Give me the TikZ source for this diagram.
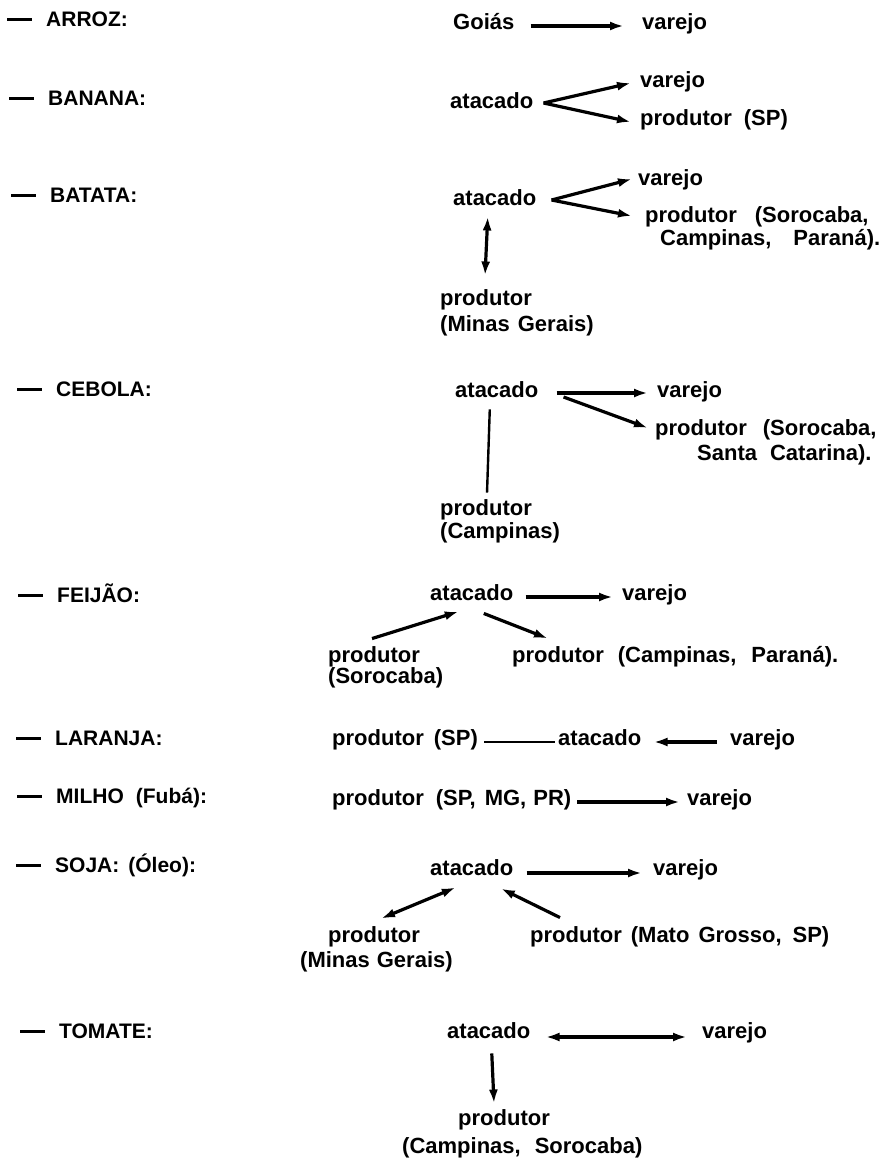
\documentclass[tikz,border=0pt]{standalone}
\usepackage{fontspec}
\setmainfont{Liberation Sans}
\usetikzlibrary{arrows.meta}
\newcommand{\hd}{\rule[6pt]{25pt}{3pt}\hspace{14pt}}
\newcommand{\g}[1]{\hspace{#1pt}}
\begin{document}
\begin{tikzpicture}[x=1pt,y=-1pt,
  font=\bfseries\fontsize{22}{26}\selectfont,
  lbl/.style={anchor=west, inner sep=0pt, text height=16pt, text depth=4.5pt},
  hl/.style={lbl, font=\bfseries\fontsize{21}{25}\selectfont},
  arr/.style={line width=3.2pt, -{Latex[length=14pt,width=9pt]}},
  darr/.style={line width=3.2pt, {Latex[length=14pt,width=9pt]}-{Latex[length=14pt,width=9pt]}},
  ln/.style={line width=2.4pt}]
\useasboundingbox (0,0) rectangle (886,1159);

% ARROZ
\node[hl] (hArroz) at (7,21) {\hd ARROZ:};
\node[lbl] (goias) at (453,24) {Goiás};
\node[lbl] (var1) at (642,24) {varejo};
\draw[arr] ([shift={(16,2)}]goias.east) -- ([shift={(-18,2)}]var1.west);

% BANANA
\node[hl] (hBanana) at (9,100) {\hd BANANA:};
\node[lbl] (at2) at (450,103) {atacado};
\node[lbl] (var2) at (640,82) {varejo};
\node[lbl] (prod2) at (640,120) {produtor\g{12}(SP)};
\draw[arr] ([shift={(10,0)}]at2.east) -- ([shift={(-9,1)}]var2.west);
\draw[arr] ([shift={(10,0)}]at2.east) -- ([shift={(-9,2)}]prod2.west);

% BATATA
\node[hl] (hBatata) at (11,197) {\hd BATATA:};
\node[lbl] (at3) at (453,200) {atacado};
\node[lbl] (var3) at (638,180) {varejo};
\node[lbl] (prod3a) at (645,217) {produtor\g{18}(Sorocaba,};
\node[lbl] (prod3a2) at (660,240) {Campinas,\g{22}Paraná).};
\node[lbl] (prod3b) at (440,300) {produtor};
\node[lbl] (prod3b2) at (440,326) {(Minas\g{8}Gerais)};
\draw[arr] ([shift={(15,0)}]at3.east) -- ([shift={(-6,-1)}]var3.west);
\draw[arr] ([shift={(15,0)}]at3.east) -- ([shift={(-13,-1)}]prod3a.west);
\draw[darr] ([shift={(-7,6)}]at3.south) -- ([shift={(-1,-14)}]prod3b.north);

% CEBOLA
\node[hl] (hCebola) at (17,391) {\hd CEBOLA:};
\node[lbl] (at4) at (455,392) {atacado};
\node[lbl] (var4) at (657,392) {varejo};
\node[lbl] (prod4a) at (655,430) {produtor\g{16}(Sorocaba,};
\node[lbl] (prod4a2) at (697,455) {Santa\g{13}Catarina).};
\node[lbl] (prod4b) at (440,510) {produtor};
\node[lbl] (prod4b2) at (440,533) {(Campinas)};
\draw[arr] ([shift={(18,1)}]at4.east) -- ([shift={(-9,1)}]var4.west);
\draw[arr] ([shift={(25,5)}]at4.east) -- ([shift={(-7,-2)}]prod4a.west);
\draw[ln] ([shift={(-7,7)}]at4.south) -- ([shift={(1,-7)}]prod4b.north);

% FEIJAO
\node[hl] (hFeijao) at (18,597) {\hd FEIJÃO:};
\node[lbl] (at5) at (430,595) {atacado};
\node[lbl] (var5) at (622,595) {varejo};
\node[lbl] (prod5a) at (328,657) {produtor};
\node[lbl] (prod5a2) at (328,678) {(Sorocaba)};
\node[lbl] (prod5b) at (512,657) {produtor\g{14}(Campinas,\g{15}Paraná).};
\draw[arr] ([shift={(12,2)}]at5.east) -- ([shift={(-9,2)}]var5.west);
\draw[arr] ([shift={(-2,-8)}]prod5a.north) -- ([shift={(-13,6)}]at5.south);
\draw[arr] ([shift={(12,8)}]at5.south) -- ([shift={(36,-8)}]prod5b.north west);

% LARANJA
\node[hl] (hLaranja) at (16,740) {\hd LARANJA:};
\node[lbl] (prod6) at (332,740) {produtor\g{10}(SP)};
\node[lbl] (at6) at (558,740) {atacado};
\node[lbl] (var6) at (730,740) {varejo};
\draw[ln, line width=2.8pt] ([shift={(6,2)}]prod6.east) -- ([shift={(-3,2)}]at6.west);
\draw[arr] ([shift={(-13,2)}]var6.west) -- ([shift={(12,2)}]at6.east);

% MILHO
\node[hl] (hMilho) at (17,798) {\hd MILHO\g{12}(Fubá):};
\node[lbl] (prod7) at (332,800) {produtor\g{12}(SP,\g{9}MG,\g{7}PR)};
\node[lbl] (var7) at (687,800) {varejo};
\draw[arr] ([shift={(6,2)}]prod7.east) -- ([shift={(-7,2)}]var7.west);

% SOJA
\node[hl] (hSoja) at (16,867) {\hd SOJA:\g{9}(Óleo):};
\node[lbl] (at8) at (430,870) {atacado};
\node[lbl] (var8) at (653,870) {varejo};
\node[lbl] (prod8a) at (328,937) {produtor};
\node[lbl] (prod8a2) at (300,962) {(Minas\g{7}Gerais)};
\node[lbl] (prod8b) at (530,937) {produtor\g{9}(Mato\g{9}Grosso,\g{11}SP)};
\draw[arr] ([shift={(13,3)}]at8.east) -- ([shift={(-11,3)}]var8.west);
\draw[darr] ([shift={(-16,7)}]at8.south) -- ([shift={(7,-8)}]prod8a.north);
\draw[arr] ([shift={(30,-9)}]prod8b.north west) -- ([shift={(29,8)}]at8.south);

% TOMATE
\node[hl] (hTomate) at (20,1033) {\hd TOMATE:};
\node[lbl] (at9) at (447,1033) {atacado};
\node[lbl] (var9) at (702,1033) {varejo};
\node[lbl] (prod9) at (458,1120) {produtor};
\node[lbl] (prod9b) at (402,1148) {(Campinas,\g{14}Sorocaba)};
\draw[darr] ([shift={(15,4)}]at9.east) -- ([shift={(-15,4)}]var9.west);
\draw[arr] ([shift={(3,10)}]at9.south) -- ([shift={(-10,-6)}]prod9.north);
\end{tikzpicture}
\end{document}
